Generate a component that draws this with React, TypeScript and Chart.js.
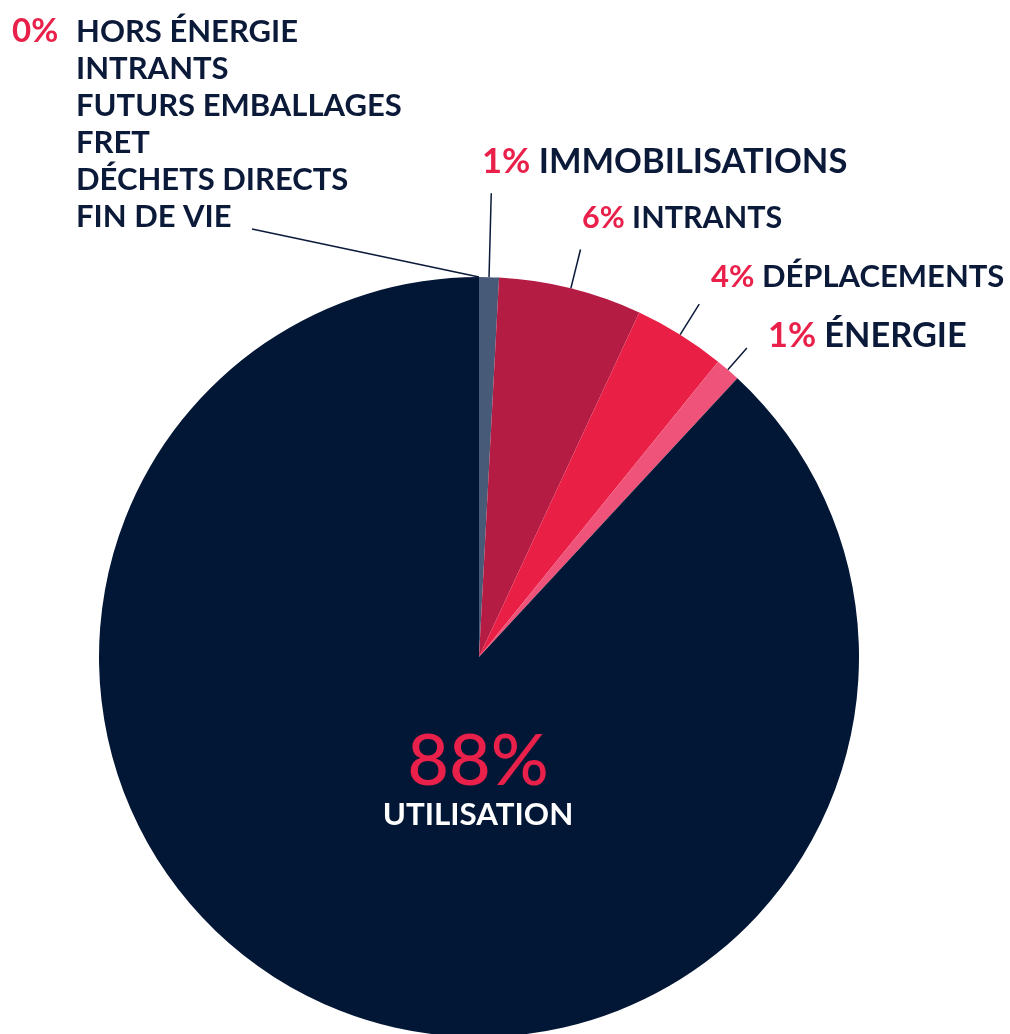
import React, { useEffect, useRef } from "react";
import { Chart, registerables } from "chart.js";

Chart.register(...registerables);

const categories = [
  "HORS ÉNERGIE\nINTRANTS\nFUTURS EMBALLAGES\nFRET\nDÉCHETS DIRECTS\nFIN DE VIE",
  "IMMOBILISATIONS",
  "INTRANTS",
  "DÉPLACEMENTS",
  "ÉNERGIE",
  "UTILISATION",
];
const values = [0, 0.84, 6.09, 3.9, 1.07, 88.1];
const percentLabels = ["0%", "1%", "6%", "4%", "1%", "88%"];
const colors = ["#475a78", "#475a78", "#b51c44", "#ea1f45", "#ef5379", "#021635"];

const NAVY = "#0c1a3a";
const RED = "#e8204a";
const FONT = "Lato, 'Open Sans', sans-serif";
const W = "bold";

// label layout: left x, baseline y, font size, leader length
const labelLayout: Record<number, { x: number; y: number; size: number; lead: number }> = {
  1: { x: 482, y: 173, size: 34.5, lead: 84 },
  2: { x: 582, y: 228, size: 30.5, lead: 40 },
  3: { x: 711, y: 287, size: 31, lead: 36 },
  4: { x: 768, y: 347, size: 34.3, lead: 29 },
};

const labelPlugin = {
  id: "pieLabels",
  afterDraw(chart: any) {
    const ctx = chart.ctx;
    const meta = chart.getDatasetMeta(0);
    ctx.save();
    ctx.textBaseline = "alphabetic";
    ctx.textAlign = "left";

    ctx.strokeStyle = NAVY;
    ctx.lineWidth = 1.5;
    meta.data.forEach((arc: any, i: number) => {
      if (i === 5) return;
      const { x, y, startAngle, endAngle, outerRadius } = arc.getProps(
        ["x", "y", "startAngle", "endAngle", "outerRadius"],
        true
      );
      const mid = (startAngle + endAngle) / 2;
      const sx = x + Math.cos(mid) * outerRadius;
      const sy = y + Math.sin(mid) * outerRadius;
      ctx.beginPath();
      ctx.moveTo(sx, sy);
      if (i === 0) {
        ctx.lineTo(252, 229);
      } else {
        const L = labelLayout[i].lead;
        ctx.lineTo(sx + Math.cos(mid) * L, sy + Math.sin(mid) * L);
      }
      ctx.stroke();
    });

    ctx.font = `${W} 33px ${FONT}`;
    ctx.fillStyle = RED;
    ctx.fillText(percentLabels[0], 12, 42);
    ctx.font = `${W} 31px ${FONT}`;
    ctx.fillStyle = NAVY;
    categories[0].split("\n").forEach((line, k) => {
      ctx.fillText(line, 76, 42 + 37 * k);
    });

    [1, 2, 3, 4].forEach((i) => {
      const l = labelLayout[i];
      ctx.font = `${W} ${l.size}px ${FONT}`;
      ctx.fillStyle = RED;
      const p = percentLabels[i];
      ctx.fillText(p, l.x, l.y);
      const w = ctx.measureText(p + " ").width;
      ctx.fillStyle = NAVY;
      ctx.fillText(categories[i], l.x + w, l.y);
    });

    ctx.textAlign = "center";
    ctx.font = `500 72px ${FONT}`;
    ctx.fillStyle = RED;
    ctx.fillText(percentLabels[5], 478, 785);
    ctx.font = `${W} 31.3px ${FONT}`;
    ctx.fillStyle = "#ffffff";
    ctx.fillText(categories[5], 478, 825);
    ctx.restore();
  },
};

export default function App() {
  const ref = useRef<HTMLCanvasElement>(null);
  useEffect(() => {
    document.body.style.margin = "0";
    const chart = new Chart(ref.current!, {
      type: "pie",
      data: {
        labels: categories,
        datasets: [
          {
            data: values,
            backgroundColor: colors,
            borderWidth: 0,
            clip: false as any,
          },
        ],
      },
      options: {
        responsive: false,
        animation: false,
        radius: 380,
        layout: { padding: { left: 99, right: 151, top: 280, bottom: 0 } },
        plugins: { legend: { display: false }, tooltip: { enabled: false } },
      } as any,
      plugins: [labelPlugin],
    });
    return () => chart.destroy();
  }, []);
  return (
    <div style={{ width: 1010, height: 1034 }}>
      <canvas ref={ref} width={1010} height={1034} style={{ display: "block" }} />
    </div>
  );
}
